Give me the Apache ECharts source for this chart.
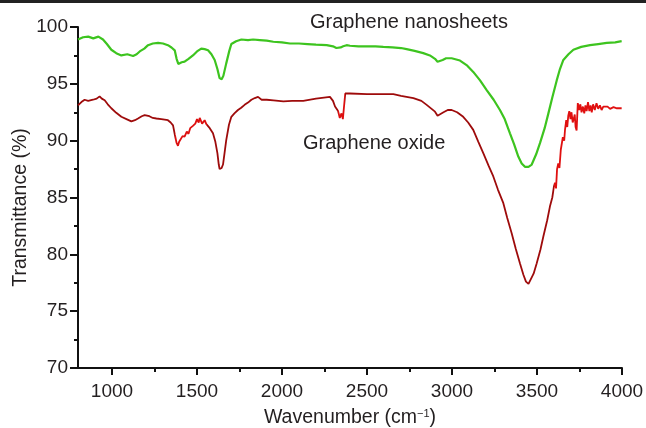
<!DOCTYPE html>
<html><head><meta charset="utf-8">
<script src="https://cdn.jsdelivr.net/npm/echarts@6/dist/echarts.min.js"></script>
<style>html,body{margin:0;padding:0;background:#fff}#c{width:646px;height:428px}</style>
</head><body><div id="c"></div>
<script>
const xTicks = [1000,1500,2000,2500,3000,3500,4000];
const xMinorTicks = [1250,1750,2250,2750,3250,3750];
const seriesNames = ['Graphene nanosheets','Graphene oxide'];
const nanosheetsWn = [800,830,860,890,920,947,970,996,1025,1055,1090,1124,1145,1163,1190,1212,1240,1271,1300,1329,1350,1369,1380,1390,1410,1427,1450,1476,1500,1525,1545,1565,1585,1604,1620,1633,1645,1655,1672,1690,1702,1730,1761,1800,1830,1870,1910,1949,2000,2047,2100,2150,2200,2263,2300,2320,2331,2345,2360,2380,2400,2450,2500,2550,2596,2650,2700,2733,2780,2831,2870,2900,2915,2925,2945,2965,2998,3047,3090,3125,3165,3204,3245,3282,3310,3341,3365,3390,3410,3429,3450,3469,3495,3518,3545,3567,3590,3616,3635,3655,3685,3714,3760,3812,3860,3910,3960,3998];
const nanosheetsT = [98.9,99.1,99.15,99.0,99.15,98.9,98.5,98.0,97.7,97.5,97.6,97.45,97.6,97.85,98.1,98.4,98.55,98.6,98.55,98.4,98.2,97.95,97.2,96.75,96.9,96.95,97.2,97.5,97.85,98.1,98.05,97.95,97.6,97.1,96.3,95.5,95.4,95.7,96.8,97.9,98.5,98.75,98.9,98.85,98.9,98.85,98.8,98.7,98.65,98.55,98.55,98.5,98.45,98.4,98.3,98.15,98.05,98.2,98.3,98.4,98.35,98.3,98.3,98.3,98.25,98.2,98.15,98.05,97.9,97.7,97.5,97.2,96.95,96.85,97.1,97.25,97.25,97.05,96.6,96.05,95.3,94.45,93.6,92.7,91.9,90.65,89.7,88.6,88.0,87.7,87.7,87.9,88.8,89.8,91.1,92.4,93.8,95.3,96.3,97.1,97.6,98.0,98.25,98.4,98.5,98.6,98.65,98.75];
const oxideWn = [800,820,839,860,888,910,927,940,957,975,996,1025,1055,1085,1114,1135,1153,1175,1192,1220,1240,1261,1290,1310,1329,1345,1359,1370,1380,1388,1395,1405,1415,1427,1440,1450,1460,1476,1490,1500,1510,1516,1530,1545,1555,1575,1594,1608,1620,1628,1633,1645,1653,1662,1672,1688,1702,1720,1741,1760,1780,1800,1820,1840,1859,1880,1910,1950,2008,2060,2125,2200,2282,2300,2312,2330,2340,2350,2358,2366,2372,2400,2500,2600,2655,2700,2773,2820,2851,2880,2900,2915,2925,2950,2975,2998,3030,3066,3095,3125,3155,3184,3215,3243,3270,3302,3325,3351,3375,3400,3420,3435,3450,3459,3480,3498,3520,3537,3560,3576,3590,3600,3606,3612,3618,3625,3632,3640,3645,3652,3660,3665,3672,3678,3684,3690,3697,3703,3710,3716,3722,3727,3733,3740,3748,3755,3762,3770,3778,3785,3792,3800,3808,3815,3822,3830,3840,3850,3860,3870,3880,3890,3900,3915,3930,3950,3970,3998];
const oxideT = [93.1,93.4,93.6,93.5,93.6,93.7,93.9,93.7,93.55,93.2,92.85,92.45,92.1,91.9,91.7,91.8,91.95,92.15,92.25,92.15,92.0,91.95,91.9,91.85,91.8,91.6,91.35,90.5,89.8,89.55,89.9,90.0,90.4,90.35,90.8,90.6,91.1,91.3,91.5,91.9,91.6,92.0,91.5,91.8,91.45,91.1,90.65,89.9,88.9,87.9,87.5,87.6,87.9,88.9,90.05,91.4,92.1,92.4,92.7,92.9,93.15,93.35,93.6,93.75,93.85,93.6,93.6,93.55,93.45,93.5,93.5,93.7,93.85,93.5,93.0,92.6,92.0,92.4,91.9,91.8,94.15,94.15,94.1,94.1,94.1,93.95,93.75,93.5,93.15,92.8,92.55,92.2,92.15,92.5,92.7,92.7,92.5,92.1,91.6,90.95,89.9,88.9,87.8,86.85,85.7,84.5,83.2,81.85,80.5,79.2,78.2,77.6,77.4,77.5,78.3,79.2,80.4,81.55,83.0,84.2,85.0,86.0,86.3,85.8,87.5,88.0,87.6,89.2,89.2,90.3,90.0,91.0,91.8,91.2,92.2,92.6,91.9,92.5,91.6,91.9,92.3,91.2,90.9,93.3,92.7,93.2,92.5,93.0,92.4,93.1,92.6,93.4,92.6,93.1,92.5,93.2,92.7,93.3,92.8,93.1,92.7,93.0,92.9,93.0,92.8,92.95,92.85,92.85];

const TXT = '#231f20';
const FONT = '"Liberation Sans", Arial, sans-serif';
const chart = echarts.init(document.getElementById('c'), null, {renderer:'canvas'});
const baseX = {type:'value', min:800, max:4000, position:'bottom', splitLine:{show:false}};
chart.setOption({
  animation:false,
  backgroundColor:'#fff',
  textStyle:{fontFamily:FONT},
  grid:{left:78, right:24, top:27, bottom:60, containLabel:false, outerBoundsMode:'none'},
  xAxis:[
    Object.assign({}, baseX, {
      axisLine:{show:true, onZero:false, lineStyle:{color:'#111', width:2}},
      axisTick:{show:true, length:7, customValues:xTicks, lineStyle:{color:'#111', width:2}},
      axisLabel:{show:true, customValues:xTicks, margin:14, color:TXT, fontSize:19, fontFamily:FONT,
        formatter:v=>String(v)},
      name:'Wavenumber (cm{sup|−1})', nameLocation:'middle', nameGap:40,
      nameTextStyle:{color:TXT, fontSize:19.5, fontFamily:FONT,
        rich:{sup:{fontSize:11, verticalAlign:'top', color:TXT, fontFamily:FONT, padding:[0,0,8,0]}}}
    }),
    Object.assign({}, baseX, {
      axisLine:{show:false},
      axisTick:{show:true, length:4, customValues:xMinorTicks, lineStyle:{color:'#111', width:2}},
      axisLabel:{show:false}
    })
  ],
  yAxis:{type:'value', min:70, max:100, interval:5, splitLine:{show:false},
    axisLine:{show:true, onZero:false, lineStyle:{color:'#111', width:2}},
    axisTick:{show:true, length:8, lineStyle:{color:'#111', width:2}},
    minorTick:{show:true, splitNumber:2, length:4, lineStyle:{color:'#111', width:2}},
    axisLabel:{margin:10, color:TXT, fontSize:19, fontFamily:FONT},
    name:'Transmittance (%)', nameLocation:'middle', nameGap:47, nameMoveOverlap:false,
    nameTextStyle:{color:TXT, fontSize:19.5, fontFamily:FONT, padding:[0,20,0,0]}
  },
  visualMap:{show:false, type:'piecewise', seriesIndex:1, dimension:0,
    pieces:[
      {lt:1370, color:'#9e0b0b'},
      {gte:1370, lt:1560, color:'#dd0f0f'},
      {gte:1560, lt:2330, color:'#9e0b0b'},
      {gte:2330, lt:2372, color:'#dd0f0f'},
      {gte:2372, lt:3600, color:'#9e0b0b'},
      {gte:3600, color:'#e01010'}
    ]},
  series:[
    {name:seriesNames[0], type:'line', xAxisIndex:0, showSymbol:false, symbol:'none',
     lineStyle:{color:'#3dc41f', width:2.2}, itemStyle:{color:'#3dc41f'},
     data:nanosheetsWn.map((x,i)=>[x,nanosheetsT[i]])},
    {name:seriesNames[1], type:'line', xAxisIndex:0, showSymbol:false, symbol:'none',
     lineStyle:{width:1.8},
     data:oxideWn.map((x,i)=>[x,oxideT[i]])}
  ],
  graphic:[
    {type:'rect', left:0, top:0, shape:{width:646, height:3}, style:{fill:'#222'}},
    {type:'text', left:310, top:12, style:{text:seriesNames[0], fill:TXT, font:'20px '+FONT}},
    {type:'text', left:303, top:133, style:{text:seriesNames[1], fill:TXT, font:'20px '+FONT}}
  ]
});
</script></body></html>
